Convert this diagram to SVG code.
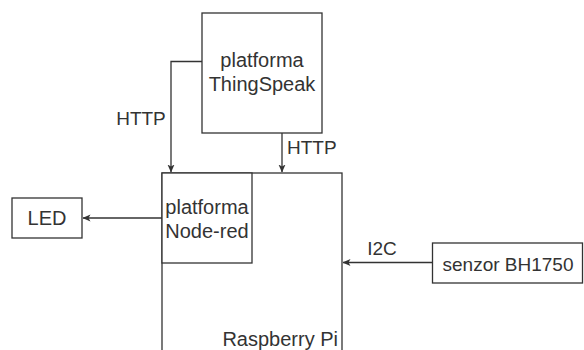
<svg xmlns="http://www.w3.org/2000/svg" width="584" height="350" viewBox="0 0 584 350">
<style>
.box{fill:#fff;stroke:#333;stroke-width:1.3}
.lbl{font-family:"Liberation Sans",Arial,sans-serif;font-size:20px;fill:#333}
.sm{font-size:19px}
.edge{fill:none;stroke:#333;stroke-width:1.3}
</style>
<defs>
<marker id="arr" viewBox="0 0 8 8" refX="7.5" refY="4" markerWidth="8" markerHeight="8" markerUnits="userSpaceOnUse" orient="auto">
<path d="M0,0.5 L8,4 L0,7.5 L2,4 z" fill="#333"/>
</marker>
</defs>
<rect width="584" height="350" fill="#fff"/>
<g id="raspberry">
<rect class="box" x="162" y="173" width="180" height="220"/>
<text class="lbl" x="338" y="346" text-anchor="end">Raspberry Pi</text>
</g>
<g id="nodered">
<rect class="box" x="162" y="173" width="90" height="90"/>
<text class="lbl" x="207" y="214" text-anchor="middle">platforma</text>
<text class="lbl" x="207" y="238" text-anchor="middle">Node-red</text>
</g>
<g id="thingspeak">
<rect class="box" x="202" y="13" width="120" height="120"/>
<text class="lbl" x="262" y="67" text-anchor="middle">platforma</text>
<text class="lbl" x="262" y="91" text-anchor="middle">ThingSpeak</text>
</g>
<g id="led">
<rect class="box" x="12" y="198" width="70" height="40"/>
<text class="lbl" x="47" y="225" text-anchor="middle">LED</text>
</g>
<g id="sensor">
<rect class="box" x="432.5" y="243" width="150" height="40"/>
<text class="lbl sm" x="508" y="271" text-anchor="middle">senzor BH1750</text>
</g>
<g id="connectors">
<path class="edge" d="M202,61.5 H171 V172" marker-end="url(#arr)"/>
<text class="lbl sm" x="141" y="125" text-anchor="middle">HTTP</text>
<path class="edge" d="M282,133 V172" marker-end="url(#arr)"/>
<text class="lbl sm" x="287" y="154">HTTP</text>
<path class="edge" d="M162,218 H83" marker-end="url(#arr)"/>
<path class="edge" d="M432.5,262.5 H343" marker-end="url(#arr)"/>
<text class="lbl sm" x="382" y="255" text-anchor="middle">I2C</text>
</g>
</svg>
